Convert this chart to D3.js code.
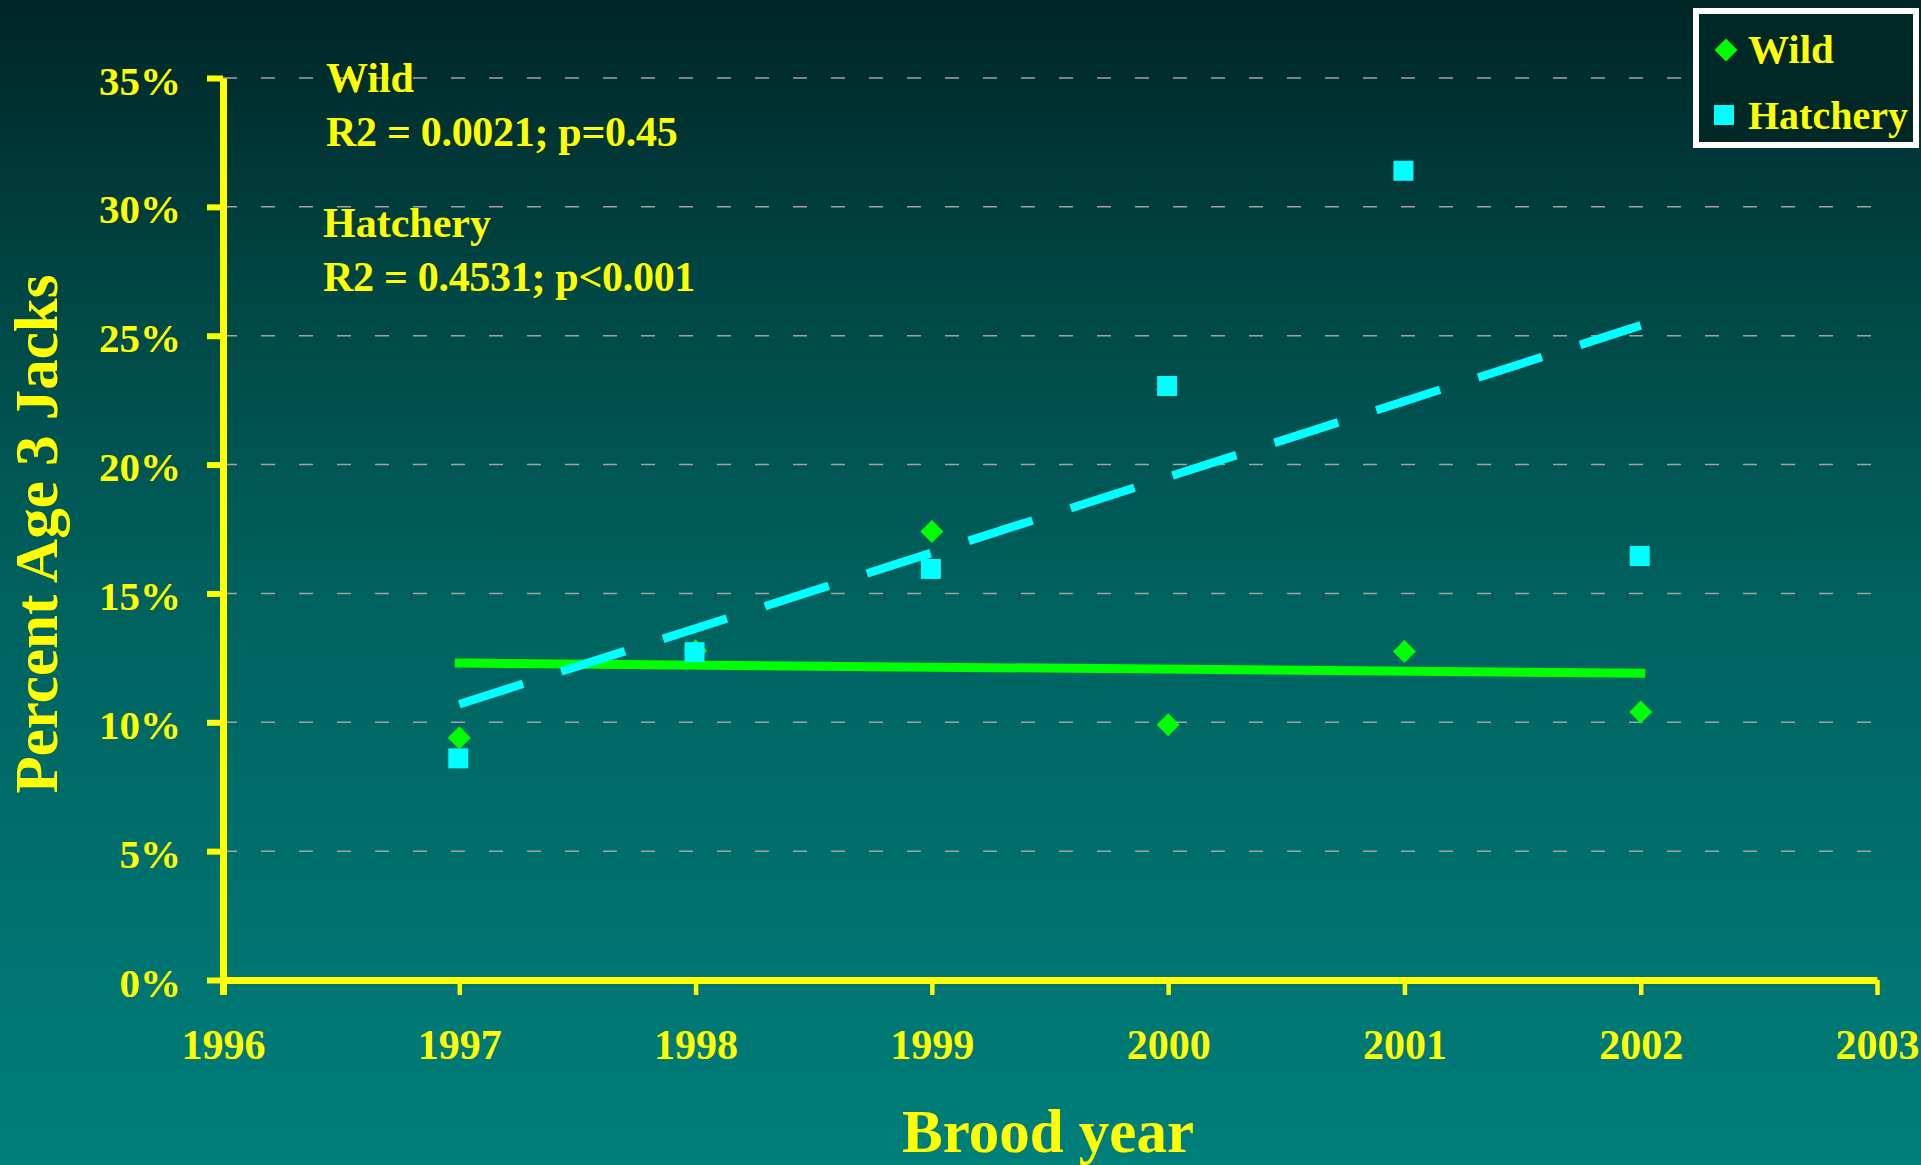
<!DOCTYPE html>
<html>
<head>
<meta charset="utf-8">
<script src="https://cdn.jsdelivr.net/npm/d3@7"></script>
<style>
  html, body { margin: 0; padding: 0; background: #004a48; }
  svg { display: block; }
  text { font-family: "Liberation Serif", "Times New Roman", serif; font-weight: bold; fill: #ffff00; }
</style>
</head>
<body>
<svg id="chart" width="1921" height="1165"></svg>
<script>
// ---- data ----
const years = [1997, 1998, 1999, 2000, 2001, 2002];
const wild = [9.4, 12.78, 17.4, 9.9, 12.75, 10.4];
const hatchery = [8.6, 12.72, 15.95, 23.05, 31.4, 16.45];
const trendYears = [1997, 2002];
const wildTrend = [12.3, 11.9];
const hatcheryTrend = [10.7, 25.4];
const xTicks = [1996, 1997, 1998, 1999, 2000, 2001, 2002, 2003];
const yTicks = [0, 5, 10, 15, 20, 25, 30, 35];
const seriesNames = ["Wild", "Hatchery"];
const annotations = [
  ["Wild", "R2 = 0.0021; p=0.45"],
  ["Hatchery", "R2 = 0.4531; p<0.001"]
];
const xTitle = "Brood year";
const yTitle = "Percent Age 3 Jacks";

const W = 1921, H = 1165;
const svg = d3.select("#chart");

// background gradient
const defs = svg.append("defs");
const grad = defs.append("linearGradient").attr("id", "bg").attr("x1", 0).attr("y1", 0).attr("x2", 0).attr("y2", 1);
[[0, "#002526"], [0.26, "#004846"], [0.52, "#00625f"], [1, "#007f7b"]].forEach(([o, c]) =>
  grad.append("stop").attr("offset", o).attr("stop-color", c));
svg.append("rect").attr("width", W).attr("height", H).attr("fill", "url(#bg)");

const x = d3.scaleLinear().domain([1996, 2003]).range([223, 1877]);
const y = d3.scaleLinear().domain([0, 35]).range([980, 78]);

// gridlines
svg.append("g").selectAll("line").data(yTicks.filter(d => d > 0)).join("line")
  .attr("x1", x(1996)).attr("x2", x(2003))
  .attr("y1", d => y(d)).attr("y2", d => y(d))
  .attr("stroke", "#a3a3a3").attr("stroke-width", 1.5)
  .attr("stroke-dasharray", "14,24");

// y axis
const yAxis = d3.axisLeft(y).tickValues(yTicks).tickSize(16).tickSizeOuter(0)
  .tickFormat(d => d + "%").tickPadding(26);
const gy = svg.append("g").attr("transform", `translate(${x(1996)},0)`).call(yAxis);
gy.select(".domain").attr("stroke", "#ffff00").attr("stroke-width", 7);
gy.selectAll(".tick line").attr("stroke", "#ffff00").attr("stroke-width", 6);
gy.selectAll(".tick text").attr("fill", "#ffff00").attr("font-size", 41)
  .attr("font-family", "Liberation Serif, serif").attr("font-weight", "bold")
  .attr("dy", "0.39em");

// x axis
const xAxis = d3.axisBottom(x).tickValues(xTicks).tickSize(15).tickSizeOuter(0)
  .tickFormat(d3.format("d")).tickPadding(34);
const gx = svg.append("g").attr("transform", `translate(0,${y(0)})`).call(xAxis);
gx.select(".domain").attr("stroke", "#ffff00").attr("stroke-width", 7);
gx.selectAll(".tick line").attr("stroke", "#ffff00").attr("stroke-width", 4.5);
gx.selectAll(".tick text").attr("fill", "#ffff00").attr("font-size", 42)
  .attr("font-family", "Liberation Serif, serif").attr("font-weight", "bold")
  .attr("dy", "0.71em");
gx.selectAll(".tick").filter(d => d === 1996).select("line").attr("stroke-width", 7);

// trend lines
const line = d3.line().x(d => x(d[0])).y(d => y(d[1]));
svg.append("path").datum(trendYears.map((t, i) => [t, wildTrend[i]]))
  .attr("d", line).attr("fill", "none").attr("stroke", "#00ff00").attr("stroke-width", 9)
  .attr("stroke-linecap", "square");
svg.append("path").datum(trendYears.map((t, i) => [t, hatcheryTrend[i]]))
  .attr("d", line).attr("fill", "none").attr("stroke", "#00ffff").attr("stroke-width", 8.5)
  .attr("stroke-dasharray", "67,40");

// markers
const diamond = d3.symbol().type(d3.symbolSquare).size(265);
const square = d3.symbol().type(d3.symbolSquare).size(400);
svg.append("g").selectAll("path").data(years.map((t, i) => [t, wild[i]])).join("path")
  .attr("d", diamond)
  .attr("transform", d => `translate(${x(d[0])},${y(d[1])}) rotate(45)`)
  .attr("fill", "#00ff00");
svg.append("g").selectAll("path").data(years.map((t, i) => [t, hatchery[i]])).join("path")
  .attr("d", square)
  .attr("transform", d => `translate(${x(d[0]) - 1},${y(d[1])})`)
  .attr("fill", "#00ffff");

// annotations
const ann = svg.append("g").attr("font-size", 42);
ann.append("text").attr("x", 326).attr("y", 92).text(annotations[0][0]);
ann.append("text").attr("x", 326).attr("y", 146).attr("letter-spacing", -0.3).text(annotations[0][1]);
ann.append("text").attr("x", 323).attr("y", 237).text(annotations[1][0]);
ann.append("text").attr("x", 323).attr("y", 291).attr("letter-spacing", -0.3).text(annotations[1][1]);

// axis titles
svg.append("text").attr("x", 1048).attr("y", 1152).attr("text-anchor", "middle")
  .attr("font-size", 61).text(xTitle);
svg.append("text").attr("transform", "translate(57,534) rotate(-90)").attr("text-anchor", "middle")
  .attr("font-size", 61).text(yTitle);

// legend
const lg = svg.append("g");
lg.append("rect").attr("x", 1696).attr("y", 11).attr("width", 220).attr("height", 134)
  .attr("fill", "#002826").attr("stroke", "#ffffff").attr("stroke-width", 6);
lg.append("path").attr("d", diamond).attr("transform", "translate(1726,50) rotate(45)").attr("fill", "#00ff00");
lg.append("path").attr("d", square).attr("transform", "translate(1724,115)").attr("fill", "#00ffff");
lg.append("text").attr("x", 1748).attr("y", 63).attr("font-size", 41).text(seriesNames[0]);
lg.append("text").attr("x", 1748).attr("y", 129).attr("font-size", 40).text(seriesNames[1]);
</script>
</body>
</html>
